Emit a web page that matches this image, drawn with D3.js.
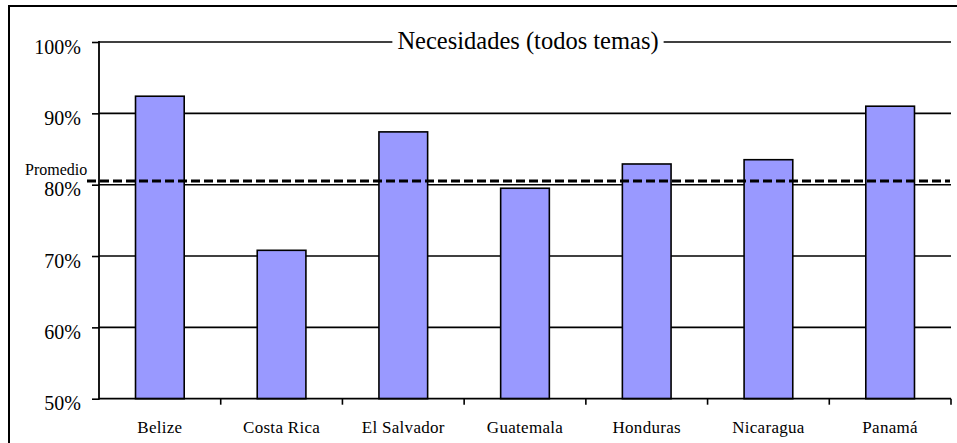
<!DOCTYPE html>
<html>
<head>
<meta charset="utf-8">
<script src="https://cdn.jsdelivr.net/npm/d3@7"></script>
<style>
  body { margin: 0; background: #fff; }
</style>
</head>
<body>
<div id="viz"></div>
<script>
// chart values
const countries = ['Belize', 'Costa Rica', 'El Salvador', 'Guatemala', 'Honduras', 'Nicaragua', 'Panamá'];
const values = [0.924, 0.708, 0.874, 0.795, 0.829, 0.835, 0.910];
const average = 0.805;
const yTicks = [0.5, 0.6, 0.7, 0.8, 0.9, 1.0];
const title = 'Necesidades (todos temas)';
const averageLabel = 'Promedio';

const width = 957;
const height = 443;
const margin = { top: 42, right: 6, bottom: 44, left: 99 };
const serif = '"Liberation Serif", "Times New Roman", serif';

const svg = d3.select('#viz')
  .append('svg')
  .attr('width', width)
  .attr('height', height);

// outer frame, cut off on the right and bottom like the original
svg.append('rect')
  .attr('x', 9).attr('y', 6)
  .attr('width', width + 20).attr('height', height + 20)
  .attr('fill', 'none')
  .attr('stroke', '#000')
  .attr('stroke-width', 2);

const y = d3.scaleLinear()
  .domain([0.5, 1.0])
  .range([height - margin.bottom - 0.3, margin.top]);

const xCat = d3.scaleBand()
  .domain(countries)
  .range([margin.left, width - margin.right])
  .padding(0);

const x = d3.scaleBand()
  .domain(countries)
  .range(xCat.range())
  .paddingInner(0.6)
  .paddingOuter(0.3);

const [x0, x1] = xCat.range();
const y0 = y.range()[0];

// gridlines
svg.append('g')
  .selectAll('line')
  .data(yTicks.slice(1))
  .join('line')
  .attr('x1', x0).attr('x2', x1)
  .attr('y1', d => y(d)).attr('y2', d => y(d))
  .attr('stroke', '#000')
  .attr('stroke-width', 1.6);

// bars
svg.append('g')
  .selectAll('rect')
  .data(values)
  .join('rect')
  .attr('x', (d, i) => x(countries[i]))
  .attr('y', d => y(d))
  .attr('width', x.bandwidth())
  .attr('height', d => y0 - y(d))
  .attr('fill', '#9999ff')
  .attr('stroke', '#000')
  .attr('stroke-width', 1.6);

// y axis
const yAxis = d3.axisLeft(y)
  .tickValues(yTicks)
  .tickFormat(d3.format('.0%'))
  .tickSize(7)
  .tickPadding(11);

const gy = svg.append('g')
  .attr('transform', `translate(${x0},0)`)
  .call(yAxis);
gy.select('.domain').remove();
gy.selectAll('.tick line').attr('stroke', '#000').attr('stroke-width', 1.6);
gy.selectAll('.tick text')
  .style('font-family', serif)
  .style('font-size', '20px')
  .attr('fill', '#000')
  .attr('dy', '0.55em');
gy.append('line')
  .attr('x1', 0).attr('x2', 0)
  .attr('y1', y(1.0) - 1).attr('y2', y0 + 1)
  .attr('stroke', '#000').attr('stroke-width', 1.8);

// x axis: labels at band centres, ticks on band edges
const xAxis = d3.axisBottom(xCat).tickSize(0).tickPadding(22);
const gx = svg.append('g')
  .attr('transform', `translate(0,${y0})`)
  .call(xAxis);
gx.select('.domain').remove();
gx.selectAll('.tick text')
  .style('font-family', serif)
  .style('font-size', '17px')
  .style('letter-spacing', '0.3px')
  .attr('fill', '#000');
gx.append('line')
  .attr('x1', x0).attr('x2', x1)
  .attr('stroke', '#000').attr('stroke-width', 1.8);
gx.selectAll('line.edge')
  .data(countries.slice(1).concat([null]))
  .join('line')
  .attr('class', 'edge')
  .attr('x1', d => d ? xCat(d) : x1)
  .attr('x2', d => d ? xCat(d) : x1)
  .attr('y1', 0).attr('y2', 6)
  .attr('stroke', '#000').attr('stroke-width', 1.6);

// average line
svg.append('line')
  .attr('x1', 87).attr('x2', x1 - 1)
  .attr('y1', y(average)).attr('y2', y(average))
  .attr('stroke', '#000')
  .attr('stroke-width', 3)
  .attr('stroke-dasharray', '9,4');

svg.append('text')
  .attr('x', 25)
  .attr('y', y(average) - 6)
  .style('font-family', serif)
  .style('font-size', '16px')
  .text(averageLabel);

// title sits over the top gridline with a white box
const titleG = svg.append('g')
  .attr('transform', `translate(${(x0 + x1) / 2 + 3},${y(1.0)})`);
const titleText = titleG.append('text')
  .attr('text-anchor', 'middle')
  .attr('dy', '0.3em')
  .style('font-family', serif)
  .style('font-size', '24.5px')
  .text(title);
const bb = titleText.node().getBBox();
titleG.insert('rect', 'text')
  .attr('x', bb.x - 5).attr('y', bb.y)
  .attr('width', bb.width + 10).attr('height', bb.height)
  .attr('fill', '#fff');
</script>
</body>
</html>
